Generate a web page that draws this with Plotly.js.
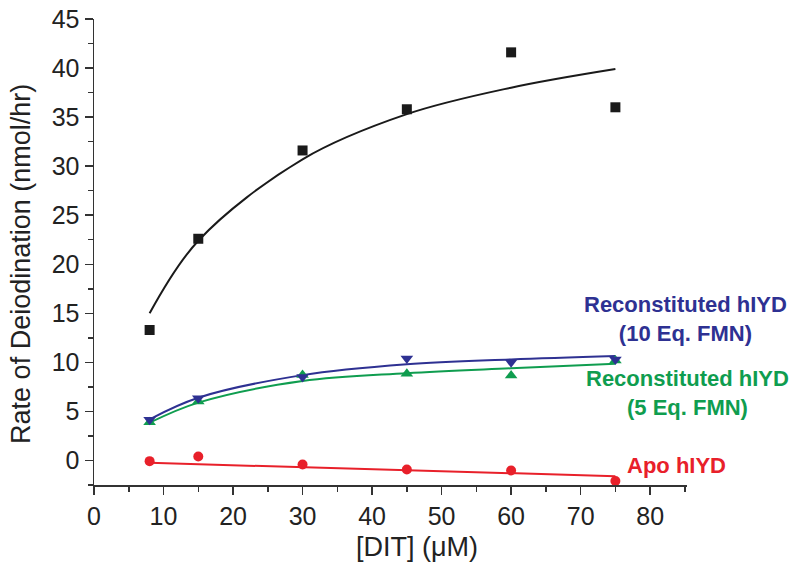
<!DOCTYPE html>
<html>
<head>
<meta charset="utf-8">
<script src="https://cdn.plot.ly/plotly-3.0.1.min.js"></script>
<style>
  html, body { margin: 0; padding: 0; background: #fff; }
  #chart { width: 790px; height: 563px; }
</style>
</head>
<body>
<div id="chart"></div>
<script>
// DIT concentrations (µM)
const ditConc = [8, 15, 30, 45, 60, 75];

// Measured deiodination rates (nmol/hr)
const nativeRate = [13.3, 22.6, 31.6, 35.8, 41.6, 36.0];
const recon10Rate = [4.15, 6.35, 8.5, 10.4, 10.0, 10.3];
const recon5Rate = [3.9, 6.0, 8.7, 8.85, 8.65, 10.2];
const apoRate = [-0.07, 0.41, -0.41, -0.92, -1.02, -2.1];

// Fitted curves, read at the same concentrations
const nativeFit = [15.0, 22.4, 30.7, 35.3, 38.0, 39.9];
const recon10Fit = [4.2, 6.4, 8.7, 9.8, 10.3, 10.65];
const recon5Fit = [3.85, 5.9, 8.1, 8.9, 9.4, 9.85];
// Linear fit for the apo enzyme (end points)
const apoFitX = [8, 75];
const apoFitY = [-0.24, -1.6];

// Series labels
const labelNative = 'Native hIYD';
const labelRecon10 = 'Reconstituted hIYD<br>(10 Eq. FMN)';
const labelRecon5 = 'Reconstituted hIYD<br>(5 Eq. FMN)';
const labelApo = 'Apo hIYD';

const cBlack = '#1a1a1a';
const cBlue = '#2e3192';
const cGreen = '#0f9d4f';
const cRed = '#e8202a';

const traces = [
  {x: ditConc, y: nativeFit, mode: 'lines', line: {color: cBlack, width: 2, shape: 'spline'}, hoverinfo: 'skip'},
  {x: ditConc, y: recon5Fit, mode: 'lines', line: {color: cGreen, width: 2, shape: 'spline'}, hoverinfo: 'skip'},
  {x: ditConc, y: recon10Fit, mode: 'lines', line: {color: cBlue, width: 2, shape: 'spline'}, hoverinfo: 'skip'},
  {x: apoFitX, y: apoFitY, mode: 'lines', line: {color: cRed, width: 2}, hoverinfo: 'skip'},
  {x: ditConc, y: nativeRate, mode: 'markers', name: 'Native hIYD',
   marker: {symbol: 'square', size: 10, color: cBlack}},
  {x: ditConc, y: recon5Rate, mode: 'markers', name: 'Reconstituted hIYD (5 Eq. FMN)',
   marker: {symbol: 'triangle-up', size: 11, color: cGreen}},
  {x: ditConc, y: recon10Rate, mode: 'markers', name: 'Reconstituted hIYD (10 Eq. FMN)',
   marker: {symbol: 'triangle-down', size: 11, color: cBlue}},
  {x: ditConc, y: apoRate, mode: 'markers', name: 'Apo hIYD',
   marker: {symbol: 'circle', size: 10, color: cRed}}
];

const labelFont = (c) => ({family: 'Liberation Sans, Arial, sans-serif', size: 22, color: c, weight: 'bold'});

const layout = {
  width: 790,
  height: 563,
  margin: {l: 94, r: 103, t: 19, b: 78},
  paper_bgcolor: '#fff',
  plot_bgcolor: '#fff',
  showlegend: false,
  font: {family: 'Liberation Sans, Arial, sans-serif', color: '#222'},
  xaxis: {
    range: [0, 85.3],
    tick0: 0, dtick: 10,
    ticks: 'outside', ticklen: 8, tickwidth: 1.5, tickcolor: '#333',
    minor: {dtick: 5, ticks: 'outside', ticklen: 5, tickwidth: 1.5, tickcolor: '#333'},
    showline: true, linecolor: '#333', linewidth: 1.5,
    showgrid: false, zeroline: false,
    tickfont: {size: 25, color: '#222'}
  },
  yaxis: {
    range: [-2.5, 45],
    tick0: 0, dtick: 5,
    ticks: 'outside', ticklen: 8, tickwidth: 1.5, tickcolor: '#333',
    minor: {dtick: 2.5, ticks: 'outside', ticklen: 5, tickwidth: 1.5, tickcolor: '#333'},
    showline: true, linecolor: '#333', linewidth: 1.5,
    showgrid: false, zeroline: false,
    tickfont: {size: 25, color: '#222'}
  },
  annotations: [
    {text: '[DIT] (μM)', xref: 'x', yref: 'paper', x: 46.5, y: -0.134,
     showarrow: false, xanchor: 'center', yanchor: 'middle',
     font: {size: 27, color: '#222'}},
    {text: 'Rate of Deiodination (nmol/hr)', xref: 'paper', yref: 'y', x: -0.122, y: 20.0,
     textangle: -90, showarrow: false, xanchor: 'center', yanchor: 'middle',
     font: {size: 27, color: '#222'}},
    {text: labelNative, xref: 'x', yref: 'y', x: 85.9, y: 40.1, showarrow: false,
     xanchor: 'center', yanchor: 'middle', font: labelFont('#1a1a1a')},
    {text: labelRecon10, xref: 'x', yref: 'y', x: 85.1, y: 14.4, showarrow: false, align: 'center',
     xanchor: 'center', yanchor: 'middle', font: labelFont(cBlue)},
    {text: labelRecon5, xref: 'x', yref: 'y', x: 85.3, y: 6.9, showarrow: false, align: 'center',
     xanchor: 'center', yanchor: 'middle', font: labelFont(cGreen)},
    {text: labelApo, xref: 'x', yref: 'y', x: 83.8, y: -0.5, showarrow: false,
     xanchor: 'center', yanchor: 'middle', font: labelFont(cRed)}
  ]
};

Plotly.newPlot('chart', traces, layout, {displayModeBar: false, staticPlot: true});
</script>
</body>
</html>
